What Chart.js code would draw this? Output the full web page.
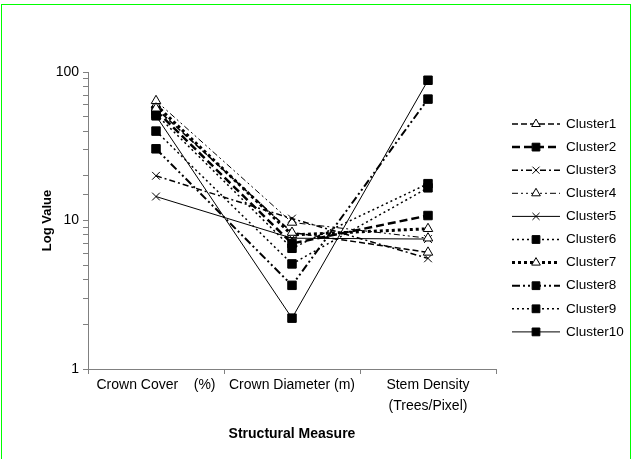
<!DOCTYPE html>
<html>
<head>
<meta charset="utf-8">
<script src="https://cdn.jsdelivr.net/npm/chart.js@4/dist/chart.umd.min.js"></script>
<style>
html,body{margin:0;padding:0;background:#fff;}
canvas{display:block;}
</style>
</head>
<body>
<canvas id="c" width="633" height="459"></canvas>
<script>
const categories = ['Crown Cover    (%)', 'Crown Diameter (m)', ['Stem Density', '(Trees/Pixel)']];
const seriesNames = ['Cluster1','Cluster2','Cluster3','Cluster4','Cluster5','Cluster6','Cluster7','Cluster8','Cluster9','Cluster10'];
const cluster1 = [57, 8.3, 6.1];
const cluster2 = [55, 7.0, 10.8];
const cluster3 = [20, 10.3, 5.56];
const cluster4 = [64, 9.7, 7.6];
const cluster5 = [14.5, 7.6, 7.5];
const cluster6 = [40, 5.1, 16.6];
const cluster7 = [60, 8.0, 8.8];
const cluster8 = [30.4, 3.66, 65.7];
const cluster9 = [52, 6.5, 17.7];
const cluster10 = [50.7, 2.2, 88];
const yTickLabels = [1, 10, 100];

const values = [cluster1, cluster2, cluster3, cluster4, cluster5, cluster6, cluster7, cluster8, cluster9, cluster10];
const styles = [
  {dash:[6,3], w:1.5, pt:'triangle'},
  {dash:[8,4], w:2.5, pt:'rect'},
  {dash:[6,3,2,3], w:1.5, pt:'crossRot'},
  {dash:[6,3,2,3,2,3], w:1, pt:'triangle'},
  {dash:[], w:1, pt:'crossRot'},
  {dash:[2,3], w:1.5, pt:'rect'},
  {dash:[3,3], w:3, pt:'triangle'},
  {dash:[8,3,2,3,2,3], w:2, pt:'rect'},
  {dash:[2,3], w:1.5, pt:'rect'},
  {dash:[], w:1, pt:'rect'}
];

const datasets = seriesNames.map((n, i) => {
  const s = styles[i];
  return {
    label: n,
    data: values[i],
    borderColor: '#000',
    borderWidth: s.w,
    borderDash: s.dash,
    pointStyle: s.pt,
    pointRadius: s.pt === 'rect' ? 6 : 5.5,
    pointBorderWidth: 1,
    pointBorderColor: '#000',
    pointBackgroundColor: s.pt === 'triangle' ? '#fff' : '#000',
    tension: 0,
    fill: false
  };
});

const FONT = '"Liberation Sans", Arial, sans-serif';

const extras = {
  id: 'extras',
  afterDraw(chart) {
    const ctx = chart.ctx;
    ctx.save();
    ctx.strokeStyle = '#00ff00';
    ctx.lineWidth = 1;
    ctx.setLineDash([]);
    ctx.strokeRect(1.5, 4.5, 629, 470);
    const x0 = 512, x1 = 560, xm = 536, xt = 566;
    chart.data.datasets.forEach((ds, i) => {
      const y = 124 + 23.1 * i;
      ctx.strokeStyle = '#000';
      ctx.lineWidth = ds.borderWidth;
      ctx.setLineDash(ds.borderDash);
      ctx.beginPath();
      ctx.moveTo(x0, y); ctx.lineTo(x1, y);
      ctx.stroke();
      ctx.setLineDash([]);
      ctx.fillStyle = ds.pointBackgroundColor;
      ctx.strokeStyle = '#000';
      ctx.lineWidth = 1;
      const r = ds.pointStyle === 'rect' ? 5.5 : 5;
      Chart.helpers.drawPoint(ctx, {pointStyle: ds.pointStyle, rotation: 0, radius: r, borderWidth: 1}, xm, y);
      ctx.fillStyle = '#000';
      ctx.font = '13.5px ' + FONT;
      ctx.textAlign = 'left';
      ctx.textBaseline = 'middle';
      ctx.fillText(ds.label, xt, y);
    });
    ctx.restore();
  }
};

new Chart(document.getElementById('c'), {
  type: 'line',
  data: { labels: categories, datasets },
  options: {
    responsive: false,
    animation: false,
    devicePixelRatio: 1,
    layout: { padding: { left: 36, right: 137, top: 72, bottom: 12 } },
    plugins: { legend: { display: false }, tooltip: { enabled: false } },
    scales: {
      x: {
        type: 'category',
        offset: true,
        afterFit(s) { s.height = 78; },
        border: { color: '#808080', width: 1 },
        grid: { offset: true, drawOnChartArea: false, drawTicks: true, tickLength: 5, color: '#808080' },
        ticks: { color: '#000', font: { family: FONT, size: 14, lineHeight: 1.5 }, maxRotation: 0, autoSkip: false, padding: 1 },
        title: { display: true, text: 'Structural Measure', color: '#000', font: { family: FONT, size: 14, weight: 'bold' }, padding: { top: 4, bottom: 4 } }
      },
      y: {
        type: 'logarithmic',
        min: 1, max: 100,
        afterFit(s) { s.width = 52; },
        border: { color: '#808080', width: 1 },
        grid: { drawOnChartArea: false, drawTicks: true, tickLength: 5, color: '#808080' },
        ticks: {
          color: '#000', font: { family: FONT, size: 14 }, padding: 4,
          autoSkip: false,
          callback(v) { return yTickLabels.includes(Number(v)) ? String(v) : ''; }
        },
        title: { display: true, text: 'Log Value', color: '#000', font: { family: FONT, size: 13, weight: 'bold' } }
      }
    }
  },
  plugins: [extras]
});
</script>
</body>
</html>
